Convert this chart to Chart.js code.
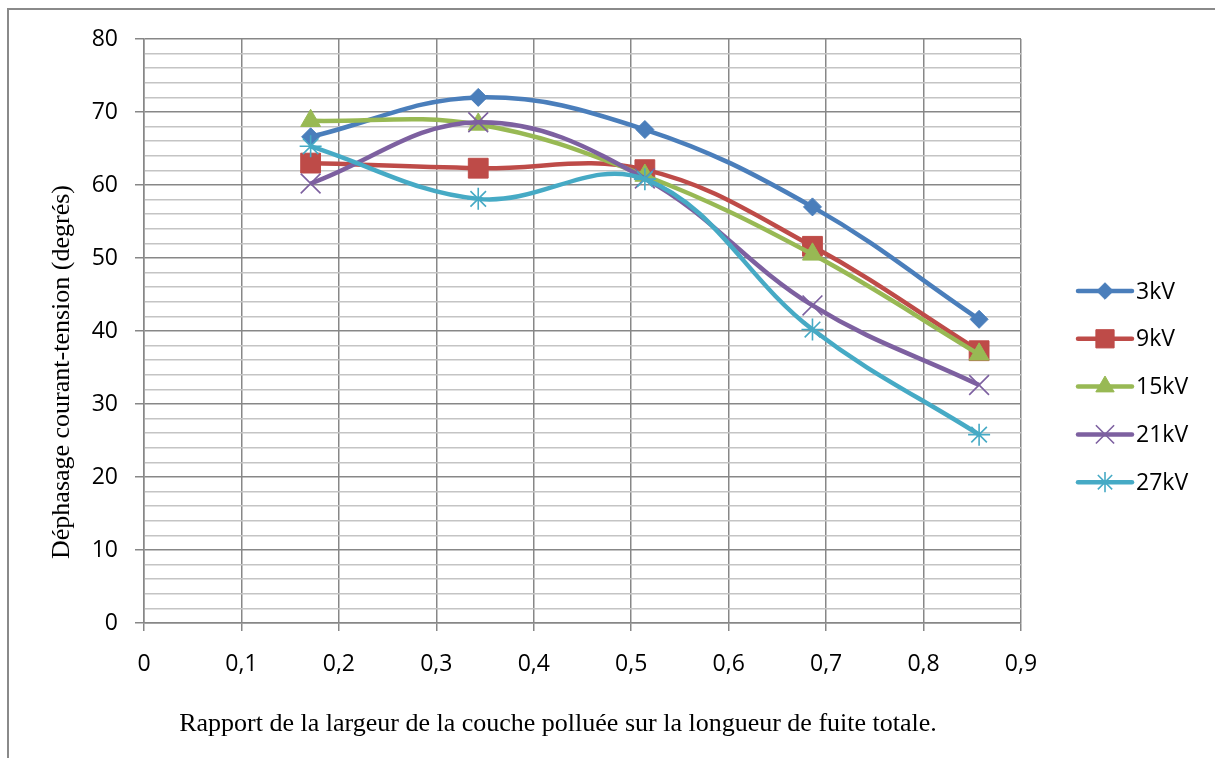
<!DOCTYPE html>
<html>
<head>
<meta charset="utf-8">
<title>Déphasage courant-tension</title>
<script src="https://cdn.jsdelivr.net/npm/chart.js@4.4.1/dist/chart.umd.min.js"></script>
<style>
  html, body { margin: 0; padding: 0; background: #fff; }
  #wrap { width: 1215px; height: 758px; }
</style>
</head>
<body>
<div id="wrap"><canvas id="c" width="1215" height="758"></canvas></div>
<script>
// Rapport largeur couche polluée / longueur de fuite totale
const xRatio = [0.171, 0.343, 0.514, 0.686, 0.857];

// Déphasage (degrés) pour chaque tension appliquée
const kv3  = [66.6, 72.0, 67.6, 57.0, 41.6];
const kv9  = [63.0, 62.3, 62.1, 51.6, 37.3];
const kv15 = [68.8, 68.3, 61.3, 50.5, 36.8];
const kv21 = [60.2, 68.6, 60.9, 43.5, 32.6];
const kv27 = [65.3, 58.1, 60.8, 40.2, 25.8];

const seriesNames = ['3kV', '9kV', '15kV', '21kV', '27kV'];
const xTickLabels = ['0', '0,1', '0,2', '0,3', '0,4', '0,5', '0,6', '0,7', '0,8', '0,9'];
const yTickLabels = ['0', '10', '20', '30', '40', '50', '60', '70', '80'];
const xTitle = 'Rapport de la largeur de la couche polluée sur la longueur de fuite totale.';
const yTitle = 'Déphasage courant-tension (degrés)';

const colors = ['#4A7EBB', '#BE4B48', '#98B954', '#7D60A0', '#46AAC5'];
const markers = [
  { pointStyle: 'rectRot',  pointRadius: 9,    pointBorderWidth: 1 },
  { pointStyle: 'rect',     pointRadius: 14,   pointBorderWidth: 1 },
  { pointStyle: 'triangle', pointRadius: 11.5, pointBorderWidth: 1 },
  { pointStyle: 'crossRot', pointRadius: 14,   pointBorderWidth: 1.6 },
  { pointStyle: 'star',     pointRadius: 11,   pointBorderWidth: 1.6 }
];

const values = [kv3, kv9, kv15, kv21, kv27];
const datasets = values.map((v, i) => ({
  label: seriesNames[i],
  data: v.map((y, j) => ({ x: xRatio[j], y: y })),
  borderColor: colors[i],
  backgroundColor: colors[i],
  pointBackgroundColor: colors[i],
  pointBorderColor: colors[i],
  borderWidth: 4.5,
  tension: 0.38,
  order: values.length - i,
  ...markers[i]
}));

const tickFont = { family: "'Open Sans', 'Noto Sans', sans-serif", size: 23 };
const titleFont = { family: "'Liberation Serif', 'Times New Roman', serif", size: 26 };
const majorGrid = '#878787';
const minorGrid = '#c4c4c4';

// Cadre gris et fond blanc de la zone graphique
const framePlugin = {
  id: 'frame',
  beforeDraw(chart) {
    const ctx = chart.ctx;
    ctx.save();
    ctx.fillStyle = '#ffffff';
    ctx.fillRect(0, 0, chart.width, chart.height);
    ctx.strokeStyle = '#8a8a8a';
    ctx.lineWidth = 2;
    ctx.strokeRect(8, 9, chart.width + 20, chart.height + 20);
    ctx.restore();
  }
};

// Titres des axes, placés par rapport à la zone de tracé
const axisTitles = {
  id: 'axisTitles',
  afterDraw(chart) {
    const ctx = chart.ctx;
    const a = chart.chartArea;
    ctx.save();
    ctx.fillStyle = '#000';
    ctx.font = `${titleFont.size}px ${titleFont.family}`;
    ctx.textAlign = 'center';
    ctx.textBaseline = 'middle';
    ctx.fillText(xTitle, a.left + 414, a.bottom + 101);
    ctx.translate(a.left - 82, a.top + 333);
    ctx.rotate(-Math.PI / 2);
    ctx.fillText(yTitle, 0, 0);
    ctx.restore();
  }
};

// Légende à droite : segment de courbe avec son marqueur, puis le nom
const sideLegend = {
  id: 'sideLegend',
  afterDraw(chart) {
    const ctx = chart.ctx;
    const x0 = chart.chartArea.right + 57;
    const lineLen = 54;
    const top = 291;
    const step = 47.8;
    ctx.save();
    chart.data.datasets.forEach((ds, i) => {
      const y = top + i * step;
      ctx.strokeStyle = ds.borderColor;
      ctx.lineWidth = 4.5;
      ctx.lineCap = 'round';
      ctx.beginPath();
      ctx.moveTo(x0, y);
      ctx.lineTo(x0 + lineLen, y);
      ctx.stroke();
      ctx.fillStyle = ds.pointBackgroundColor;
      ctx.strokeStyle = ds.pointBorderColor;
      ctx.lineWidth = ds.pointBorderWidth;
      ctx.lineCap = 'butt';
      Chart.helpers.drawPoint(ctx, {
        pointStyle: ds.pointStyle,
        rotation: 0,
        radius: ds.pointRadius * 0.92,
        borderWidth: ds.pointBorderWidth
      }, x0 + lineLen / 2, y);
      ctx.fillStyle = '#000';
      ctx.font = `${tickFont.size}px ${tickFont.family}`;
      ctx.textAlign = 'left';
      ctx.textBaseline = 'middle';
      ctx.fillText(ds.label, x0 + lineLen + 4, y + 1);
    });
    ctx.restore();
  }
};

new Chart(document.getElementById('c'), {
  type: 'line',
  data: { datasets },
  plugins: [framePlugin, axisTitles, sideLegend],
  options: {
    responsive: false,
    animation: false,
    layout: { padding: { left: 0, right: 194, top: 39, bottom: 0 } },
    plugins: {
      legend: { display: false },
      tooltip: { enabled: false }
    },
    scales: {
      x: {
        type: 'linear',
        min: 0,
        max: 0.9,
        afterFit(scale) { scale.height = 135; },
        border: { color: majorGrid, width: 1.5 },
        grid: { color: majorGrid, lineWidth: 1.5, tickLength: 8, tickColor: majorGrid },
        ticks: {
          stepSize: 0.1,
          padding: 20,
          color: '#000',
          font: tickFont,
          maxRotation: 0,
          callback: (v, i) => xTickLabels[i]
        }
      },
      y: {
        type: 'linear',
        min: 0,
        max: 80,
        afterFit(scale) { scale.width = 144; },
        border: { color: majorGrid, width: 1.5 },
        grid: {
          color: ctx => (ctx.tick && ctx.tick.value % 10 === 0) ? majorGrid : minorGrid,
          lineWidth: ctx => (ctx.tick && ctx.tick.value % 10 === 0) ? 1.5 : 1.6,
          tickLength: 9,
          tickColor: ctx => (ctx.tick && ctx.tick.value % 10 === 0) ? majorGrid : 'rgba(0,0,0,0)'
        },
        ticks: {
          stepSize: 2,
          padding: 17,
          color: '#000',
          font: tickFont,
          autoSkip: false,
          callback: v => (v % 10 === 0) ? yTickLabels[v / 10] : ''
        }
      }
    }
  }
});
</script>
</body>
</html>
